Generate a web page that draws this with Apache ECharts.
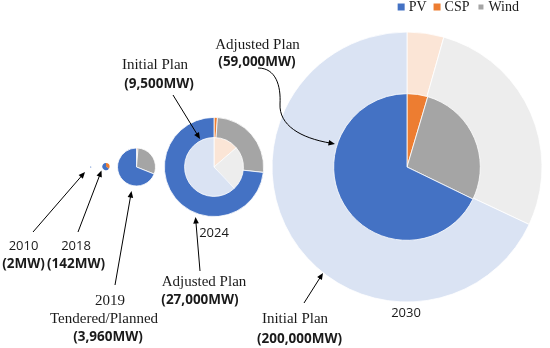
<!DOCTYPE html>
<html>
<head>
<meta charset="utf-8">
<script src="https://cdn.jsdelivr.net/npm/echarts@6/dist/echarts.min.js"></script>
<style>html,body{margin:0;padding:0;background:#fff}#c{width:550px;height:348px}</style>
</head>
<body>
<div id="c"></div>
<script>
// ---- data ----
const seriesNames = ['PV', 'CSP', 'Wind'];
const pieKeys   = ['2010', '2018', '2019', '2024 Adjusted', '2024 Initial', '2030 Initial', '2030 Adjusted'];
const totalMW   = [2, 142, 3960, 27000, 9500, 200000, 59000];
const pvMW      = [2, 92, 2730, 20000, 5900, 136000, 40000];
const cspMW     = [0, 50, 50, 300, 1300, 8800, 2700];
const windMW    = [0, 0, 1180, 7000, 2300, 55200, 16300];
const planLabels = ['2010', '2018', '2019', 'Adjusted Plan', 'Initial Plan', 'Initial Plan', 'Adjusted Plan'];
const yearLabels = ['2024', '2030'];

// ---- styles / layout ----
const dark  = {PV: '#4472C4', CSP: '#ED7D31', Wind: '#A5A5A5'};
const light = {PV: '#DAE3F3', CSP: '#FBE5D6', Wind: '#EDEDED'};
const isLight = [false, false, false, false, true, true, false];
const centers = [[90.7,167],[106,166.5],[136.5,167],[214,167],[214,167],[407,167],[407,167]];
const RMAX = 135;
const maxMW = Math.max(...totalMW);

function fmt(v){ return '(' + v.toLocaleString('en-US') + 'MW)'; }

const series = pieKeys.map((k, i) => {
  const r = RMAX * Math.sqrt(totalMW[i] / maxMW);
  const pal = isLight[i] ? light : dark;
  const vals = {PV: pvMW[i], CSP: cspMW[i], Wind: windMW[i]};
  const order = ['CSP', 'Wind', 'PV'];
  const data = order.filter(n => vals[n] > 0).map(n => ({name: n, value: vals[n], itemStyle: {color: pal[n]}}));
  return {
    type: 'pie', name: k, center: centers[i], radius: [0, Math.max(r, 0.6)],
    startAngle: 90, clockwise: true, silent: true, z: 2 + (i === 4 || i === 6 ? 1 : 0),
    label: {show: false}, labelLine: {show: false},
    emphasis: {disabled: true},
    itemStyle: {borderColor: '#fff', borderWidth: r > 10 ? 0.8 : 0},
    data
  };
});

const serif = '"Liberation Serif", "Times New Roman", serif';
const sans = '"Open Sans", "Noto Sans", sans-serif';
const txtCol = '#1a1a1a';

function T(text, x, y, font){
  return {type: 'text', z: 10, silent: true, style: {text, x, y, font, fill: txtCol,
    textAlign: 'center', align: 'center', textVerticalAlign: 'middle', verticalAlign: 'middle'}};
}
const bold = 'bold 13.5px ' + sans;
const reg = '13px ' + sans;
const ser = '15px ' + serif;

const texts = [
  T(planLabels[0], 23.5, 246.5, reg), T(fmt(totalMW[0]), 23.5, 264.5, bold),
  T(planLabels[1], 76, 246.5, reg), T(fmt(totalMW[1]), 76, 264.5, bold),
  T(planLabels[2], 110, 301.5, ser), T('Tendered/Planned', 104, 319.5, ser), T(fmt(totalMW[2]), 108, 337.5, bold),
  T(yearLabels[0], 214, 233, reg),
  T(planLabels[3], 204, 282, ser), T(fmt(totalMW[3]), 200, 300.5, bold),
  T(planLabels[4], 155, 65.5, ser), T(fmt(totalMW[4]), 159, 84, bold),
  T(planLabels[6], 257.5, 45, ser), T(fmt(totalMW[6]), 257, 62.5, bold),
  T(planLabels[5], 295, 319.5, ser), T(fmt(totalMW[5]), 299.5, 339, bold),
  T(yearLabels[1], 406, 313, reg)
];

function head(tx, ty, dx, dy){
  const L = Math.hypot(dx, dy), ux = dx / L, uy = dy / L;
  const len = 6.5, hw = 2.8;
  const bx = tx - ux * len, by = ty - uy * len;
  return {type: 'polygon', z: 11, silent: true, shape: {points: [[tx, ty], [bx - uy * hw, by + ux * hw], [bx + uy * hw, by - ux * hw]]}, style: {fill: '#000'}};
}
function arrow(x1, y1, x2, y2){
  const L = Math.hypot(x2 - x1, y2 - y1);
  const ux = (x2 - x1) / L, uy = (y2 - y1) / L;
  return [
    {type: 'line', z: 11, silent: true, shape: {x1, y1, x2: x2 - ux * 4, y2: y2 - uy * 4}, style: {stroke: '#000', lineWidth: 1}},
    head(x2, y2, x2 - x1, y2 - y1)
  ];
}
const arrows = [].concat(
  arrow(33, 232, 85, 172),
  arrow(78, 232, 101.5, 170.5),
  arrow(115, 285, 131.5, 191),
  arrow(200, 271, 195.5, 217),
  arrow(173, 95, 200, 139),
  arrow(304, 303, 323, 273),
  [
    {type: 'bezierCurve', z: 11, silent: true, shape: {x1: 258, y1: 68, cpx1: 276, cpy1: 68, cpx2: 281, cpy2: 86, x2: 280, y2: 104}, style: {stroke: '#000', lineWidth: 1, fill: null}},
    {type: 'bezierCurve', z: 11, silent: true, shape: {x1: 280, y1: 104, cpx1: 279, cpy1: 125, cpx2: 300, cpy2: 138, x2: 331, y2: 143.2}, style: {stroke: '#000', lineWidth: 1, fill: null}},
    head(335, 144, 30, 6)
  ]
);

const chart = echarts.init(document.getElementById('c'), null, {renderer: 'canvas'});
chart.setOption({
  animation: false,
  backgroundColor: '#fff',
  legend: {
    top: 0, right: 31, padding: 0, itemWidth: 7, itemHeight: 7, itemGap: 7, icon: 'rect',
    selectedMode: false,
    textStyle: {fontFamily: serif, fontSize: 14, color: txtCol, padding: [0, 0, 0, -1]},
    data: seriesNames.map(n => ({name: n, itemStyle: {color: dark[n]}}))
  },
  series,
  graphic: {elements: texts.concat(arrows)}
});
</script>
</body>
</html>
